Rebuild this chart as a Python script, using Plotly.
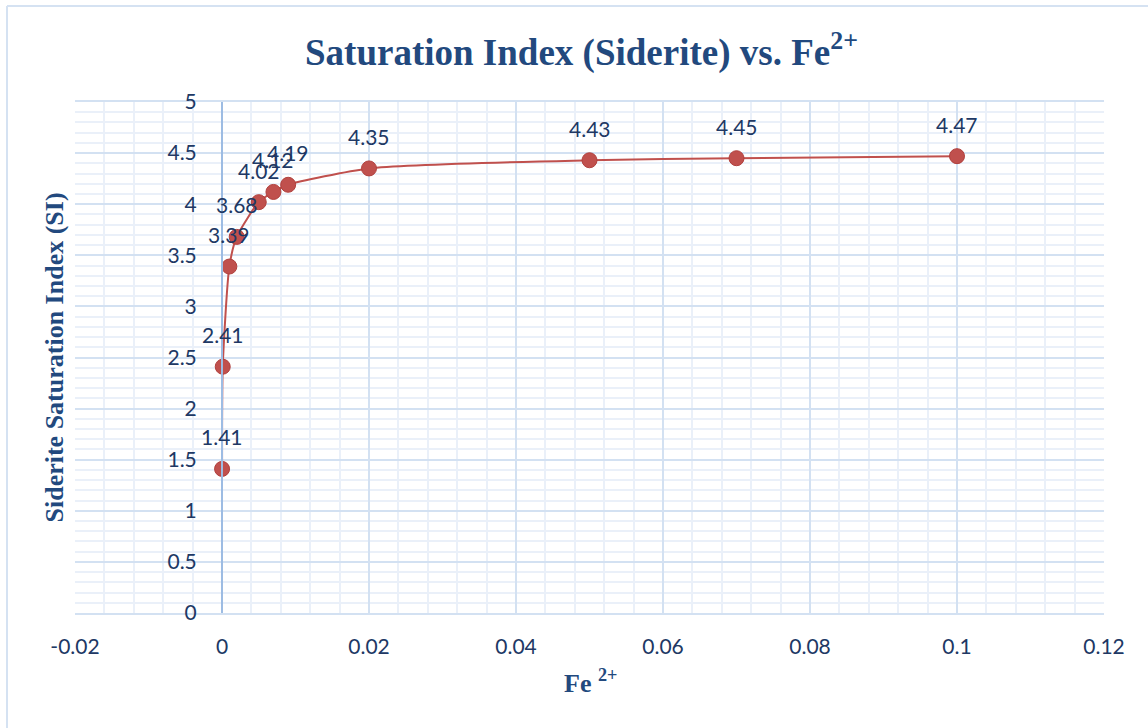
import plotly.graph_objects as go

fe = [0.00001, 0.0001, 0.001, 0.002, 0.005, 0.007, 0.009, 0.02, 0.05, 0.07, 0.1]
si = [1.41, 2.41, 3.39, 3.68, 4.02, 4.12, 4.19, 4.35, 4.43, 4.45, 4.47]
si_labels = ["1.41", "2.41", "3.39", "3.68", "4.02", "4.12", "4.19", "4.35", "4.43", "4.45", "4.47"]
x_ticks = [-0.02, 0, 0.02, 0.04, 0.06, 0.08, 0.1, 0.12]
x_ticktext = ["-0.02", "0", "0.02", "0.04", "0.06", "0.08", "0.1", "0.12"]
y_ticks = [0, 0.5, 1, 1.5, 2, 2.5, 3, 3.5, 4, 4.5, 5]
y_ticktext = ["0", "0.5", "1", "1.5", "2", "2.5", "3", "3.5", "4", "4.5", "5"]

TXT = "#203864"
TITLE = "#22497E"
MAJ = "#D3E1F2"
MIN = "#EAF0F9"
SANS = "Lato, Open Sans, sans-serif"
SERIF = "Liberation Serif, Times New Roman, serif"

fig = go.Figure()
fig.add_trace(go.Scatter(
    x=fe, y=si, mode="lines+markers",
    line=dict(color="#C0504D", width=2, shape="spline", smoothing=0.6),
    marker=dict(size=15, color="#C0504D", line=dict(color="#B0403D", width=1)),
    showlegend=False, hoverinfo="x+y",
))

annotations = []
for xv, yv, lab in zip(fe, si, si_labels):
    annotations.append(dict(x=xv, y=yv, xref="x", yref="y", text=lab, showarrow=False,
                            yshift=32, font=dict(family=SANS, size=21, color=TXT)))

annotations.append(dict(x=(54 - 75) / 1029, y=0.5, xref="paper", yref="paper",
                        xanchor="center", yanchor="middle",
                        text="<b>Siderite Saturation Index (SI)</b>", textangle=-90,
                        showarrow=False, font=dict(family=SERIF, size=26, color=TITLE)))
annotations.append(dict(x=(590 - 75) / 1029, y=(613 - 681) / 511, xref="paper", yref="paper",
                        yanchor="middle",
                        text="<b>Fe <sup>2+</sup></b>", showarrow=False,
                        font=dict(family=SERIF, size=26, color=TITLE)))
annotations.append(dict(x=(581 - 75) / 1029, y=(613 - 50) / 511, xref="paper", yref="paper",
                        yanchor="middle",
                        text="<b>Saturation Index (Siderite) vs. Fe<sup>2+</sup></b>", showarrow=False,
                        font=dict(family=SERIF, size=37, color=TITLE)))

shapes = [
    dict(type="line", xref="paper", yref="paper", x0=(7 - 75) / 1029, x1=1.1, y0=(613 - 6) / 511, y1=(613 - 6) / 511,
         line=dict(color="#D5E2F2", width=2)),
    dict(type="line", xref="paper", yref="paper", x0=(7 - 75) / 1029, x1=(7 - 75) / 1029, y0=(613 - 6) / 511, y1=-0.3,
         line=dict(color="#D5E2F2", width=2)),
]

fig.update_layout(
    width=1148, height=728,
    margin=dict(l=75, r=44, t=102, b=115),
    paper_bgcolor="white", plot_bgcolor="white",
    annotations=annotations, shapes=shapes,
    xaxis=dict(
        range=[-0.02, 0.12], tickvals=x_ticks, ticktext=x_ticktext,
        showgrid=True, gridcolor=MAJ, gridwidth=1.5, zeroline=False,
        minor=dict(dtick=0.004, tick0=0, showgrid=True, gridcolor=MIN, gridwidth=1.5),
        showline=True, linecolor=MAJ, linewidth=1.5, mirror=True,
        tickfont=dict(family=SANS, size=21, color=TXT), ticklabelstandoff=14,
    ),
    yaxis=dict(
        range=[0, 5], tickvals=y_ticks, ticktext=y_ticktext,
        anchor="free", position=(222 - 75) / 1029,
        showgrid=True, gridcolor=MAJ, gridwidth=1.5, zeroline=False,
        minor=dict(dtick=0.1, tick0=0, showgrid=True, gridcolor=MIN, gridwidth=1.5),
        showline=True, linecolor="#9DBCE3", linewidth=2,
        tickfont=dict(family=SANS, size=21, color=TXT), ticklabelstandoff=20,
    ),
)

fig.write_html("out.html")
